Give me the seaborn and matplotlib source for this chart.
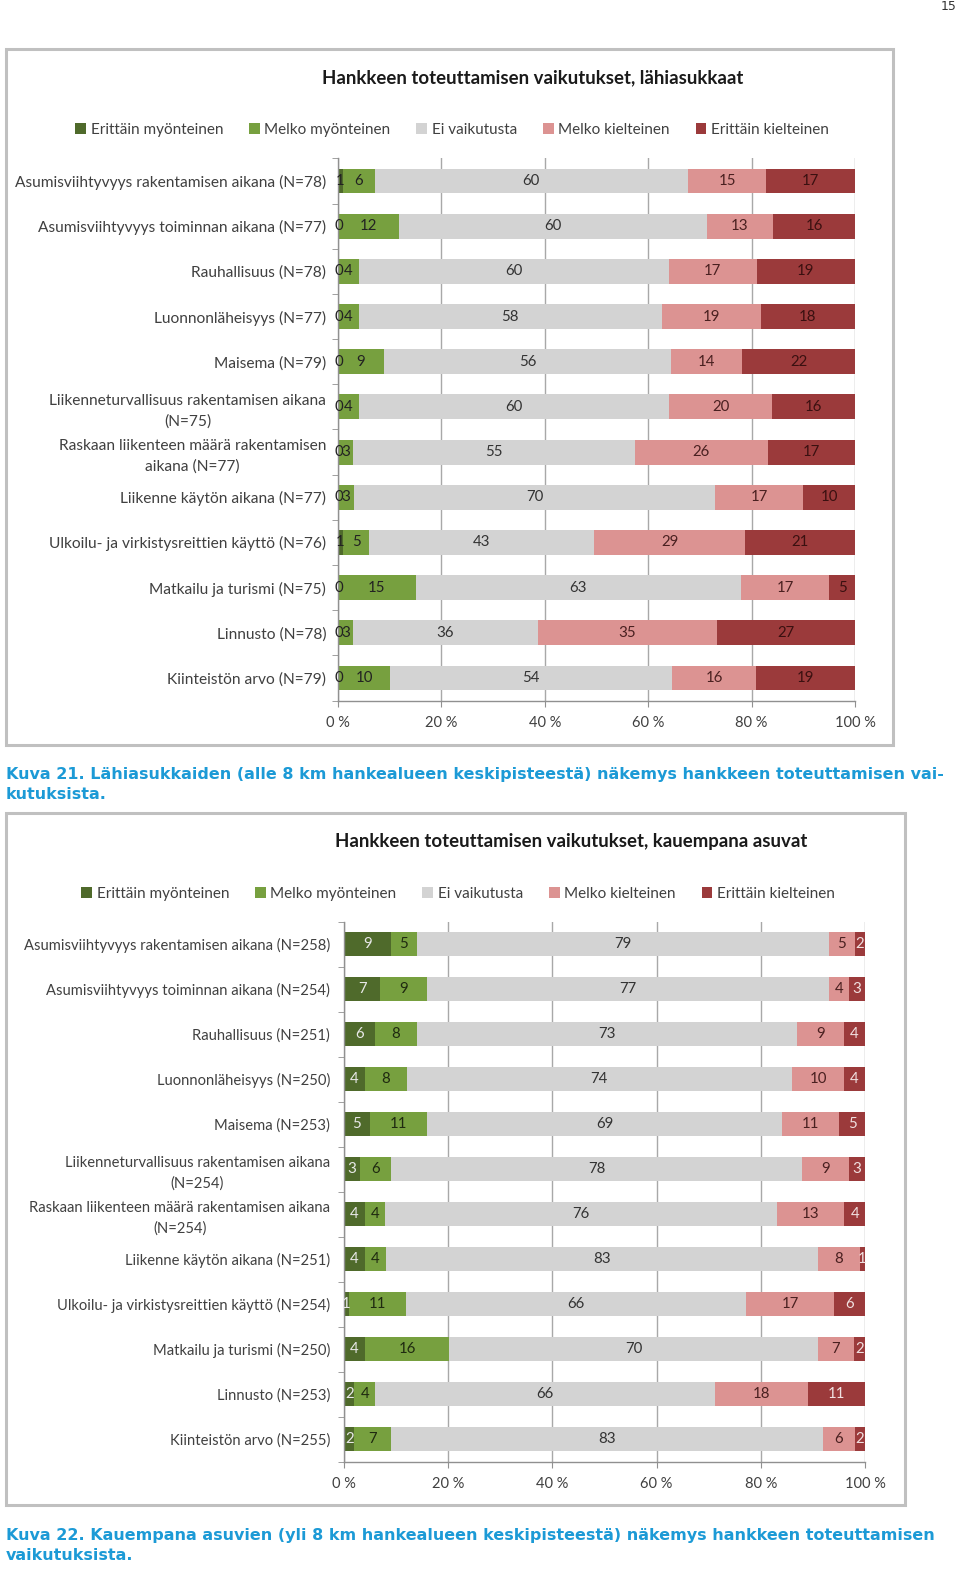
import matplotlib
matplotlib.use("Agg")
import matplotlib.pyplot as plt
from matplotlib.patches import Rectangle, Patch
import seaborn as sns
import numpy as np
import pandas as pd

# ---------------- data ----------------
series = ["Erittäin myönteinen", "Melko myönteinen", "Ei vaikutusta",
          "Melko kielteinen", "Erittäin kielteinen"]

cats1 = ["Asumisviihtyvyys rakentamisen aikana (N=78)",
         "Asumisviihtyvyys toiminnan aikana (N=77)",
         "Rauhallisuus (N=78)",
         "Luonnonläheisyys (N=77)",
         "Maisema (N=79)",
         "Liikenneturvallisuus rakentamisen aikana\n(N=75)",
         "Raskaan liikenteen määrä rakentamisen\naikana (N=77)",
         "Liikenne käytön aikana (N=77)",
         "Ulkoilu- ja virkistysreittien käyttö (N=76)",
         "Matkailu ja turismi (N=75)",
         "Linnusto (N=78)",
         "Kiinteistön arvo (N=79)"]
erittain_myont1 = [1, 0, 0, 0, 0, 0, 0, 0, 1, 0, 0, 0]
melko_myont1 = [6, 12, 4, 4, 9, 4, 3, 3, 5, 15, 3, 10]
ei_vaik1 = [60, 60, 60, 58, 56, 60, 55, 70, 43, 63, 36, 54]
melko_kielt1 = [15, 13, 17, 19, 14, 20, 26, 17, 29, 17, 35, 16]
erittain_kielt1 = [17, 16, 19, 18, 22, 16, 17, 10, 21, 5, 27, 19]

cats2 = ["Asumisviihtyvyys rakentamisen aikana (N=258)",
         "Asumisviihtyvyys toiminnan aikana (N=254)",
         "Rauhallisuus (N=251)",
         "Luonnonläheisyys (N=250)",
         "Maisema (N=253)",
         "Liikenneturvallisuus rakentamisen aikana\n(N=254)",
         "Raskaan liikenteen määrä rakentamisen aikana\n(N=254)",
         "Liikenne käytön aikana (N=251)",
         "Ulkoilu- ja virkistysreittien käyttö (N=254)",
         "Matkailu ja turismi (N=250)",
         "Linnusto (N=253)",
         "Kiinteistön arvo (N=255)"]
erittain_myont2 = [9, 7, 6, 4, 5, 3, 4, 4, 1, 4, 2, 2]
melko_myont2 = [5, 9, 8, 8, 11, 6, 4, 4, 11, 16, 4, 7]
ei_vaik2 = [79, 77, 73, 74, 69, 78, 76, 83, 66, 70, 66, 83]
melko_kielt2 = [5, 4, 9, 10, 11, 9, 13, 8, 17, 7, 18, 6]
erittain_kielt2 = [2, 3, 4, 4, 5, 3, 4, 1, 6, 2, 11, 2]

x_ticks = [0, 20, 40, 60, 80, 100]
x_ticklabels = ["0 %", "20 %", "40 %", "60 %", "80 %", "100 %"]

title1 = "Hankkeen toteuttamisen vaikutukset, lähiasukkaat"
title2 = "Hankkeen toteuttamisen vaikutukset, kauempana asuvat"
caption1 = ("Kuva 21. Lähiasukkaiden (alle 8 km hankealueen keskipisteestä) näkemys hankkeen toteuttamisen vai-\n"
            "kutuksista.")
caption2 = ("Kuva 22. Kauempana asuvien (yli 8 km hankealueen keskipisteestä) näkemys hankkeen toteuttamisen\n"
            "vaikutuksista.")

colors = ["#4f6a2b", "#77a03f", "#d3d3d3", "#dc9392", "#9b3a3b"]
label_colors1 = ["#222222", "#222222", "#333333", "#4a2020", "#3a1010"]
label_colors2 = ["#e8e8e8", "#1f2a10", "#333333", "#4a2020", "#f0e0e0"]

W, H = 960, 1569
FONT = "Lato"
plt.rcParams["font.family"] = [FONT, "DejaVu Sans"]

fig = plt.figure(figsize=(W / 100, H / 100), dpi=100)
fig.patch.set_facecolor("white")


def fx(px):
    return px / W


def fy(py):
    return 1 - py / H


def draw_chart(cats, vals, title, box, ax_rect, title_xy, legend_xy, lab_colors,
               ylab_pad, ylab_size):
    # frame
    x0, y0, x1, y1 = box
    fig.patches.append(Rectangle((fx(x0), fy(y1)), fx(x1 - x0), (y1 - y0) / H,
                                 transform=fig.transFigure, facecolor="none",
                                 edgecolor="#c0c0c0", linewidth=2.2, zorder=-1))
    l, t, r, b = ax_rect
    ax = fig.add_axes([fx(l), fy(b), fx(r - l), (b - t) / H])
    arr = np.array(vals, dtype=float).T  # rows x series
    tot = arr.sum(axis=1, keepdims=True)
    pct = arr / tot * 100
    cum = np.cumsum(pct, axis=1)
    df = pd.DataFrame({"cat": cats})
    # draw cumulative bars from largest to smallest so each segment shows
    for k in range(len(series) - 1, -1, -1):
        df["v"] = cum[:, k]
        sns.barplot(data=df, x="v", y="cat", orient="h", color=colors[k],
                    width=0.55, saturation=1, ax=ax, zorder=2, linewidth=0)
    # labels
    for i in range(len(cats)):
        for k in range(len(series)):
            v = arr[i, k]
            xc = cum[i, k] - pct[i, k] / 2
            if v == 0:
                xc = 0.15
            ax.text(xc, i, f"{int(v)}", ha="center", va="center",
                    fontsize=10.8, color=lab_colors[k], zorder=5)
    ax.set_xlim(0, 100)
    ax.set_ylim(len(cats) - 0.5, -0.5)
    ax.set_xticks(x_ticks)
    ax.set_xticklabels(x_ticklabels, fontsize=10.5, color="#404040")
    ax.set_xlabel("")
    ax.set_ylabel("")
    ax.set_yticks(range(len(cats)))
    ax.set_yticklabels(cats, fontsize=ylab_size, color="#404040", multialignment="center",
                       linespacing=1.55)
    ax.set_yticks(np.arange(len(cats) + 1) - 0.5, minor=True)
    ax.tick_params(axis="y", which="major", length=0, pad=ylab_pad)
    ax.tick_params(axis="y", which="minor", length=4, color="#909090")
    ax.tick_params(axis="x", length=4, color="#909090", pad=7)
    ax.grid(axis="x", color="#a8a8a8", linewidth=1.0, zorder=0)
    ax.set_axisbelow(True)
    for s in ["top", "right"]:
        ax.spines[s].set_visible(False)
    for s in ["left", "bottom"]:
        ax.spines[s].set_color("#909090")
        ax.spines[s].set_linewidth(1.0)
    ax.set_facecolor("white")
    fig.text(fx(title_xy[0]), fy(title_xy[1]), title, ha="center", va="center",
             fontsize=13.4, fontweight="bold", color="#1a1a1a")
    handles = [Patch(facecolor=c, edgecolor="none") for c in colors]
    fig.legend(handles, series, loc="center", bbox_to_anchor=(fx(legend_xy[0]), fy(legend_xy[1])),
               ncol=5, frameon=False, fontsize=11, handlelength=0.7, handleheight=0.7,
               handletextpad=0.3, columnspacing=1.7, labelcolor="#404040")
    return ax


vals1 = [erittain_myont1, melko_myont1, ei_vaik1, melko_kielt1, erittain_kielt1]
vals2 = [erittain_myont2, melko_myont2, ei_vaik2, melko_kielt2, erittain_kielt2]

draw_chart(cats1, vals1, title1, (6, 49, 893, 745), (338, 158.4, 855, 700.6),
           (533, 78), (452, 130), label_colors1, 8.5, 11.2)
draw_chart(cats2, vals2, title2, (6, 813, 905, 1505), (344, 921.5, 865, 1461.5),
           (571, 842), (458, 894), label_colors2, 10, 10.6)

cap_color = "#1c9ad6"
fig.text(fx(6), fy(767), caption1, ha="left", va="top", fontsize=11.5,
         fontweight="bold", color=cap_color, family="DejaVu Sans", linespacing=1.45)
fig.text(fx(6), fy(1528), caption2, ha="left", va="top", fontsize=11.5,
         fontweight="bold", color=cap_color, family="DejaVu Sans", linespacing=1.45)
fig.text(fx(957), fy(7), "15", ha="right", va="center", fontsize=9,
         color="#333333", family="DejaVu Sans")

fig.savefig("out.png", dpi=100, facecolor="white")
